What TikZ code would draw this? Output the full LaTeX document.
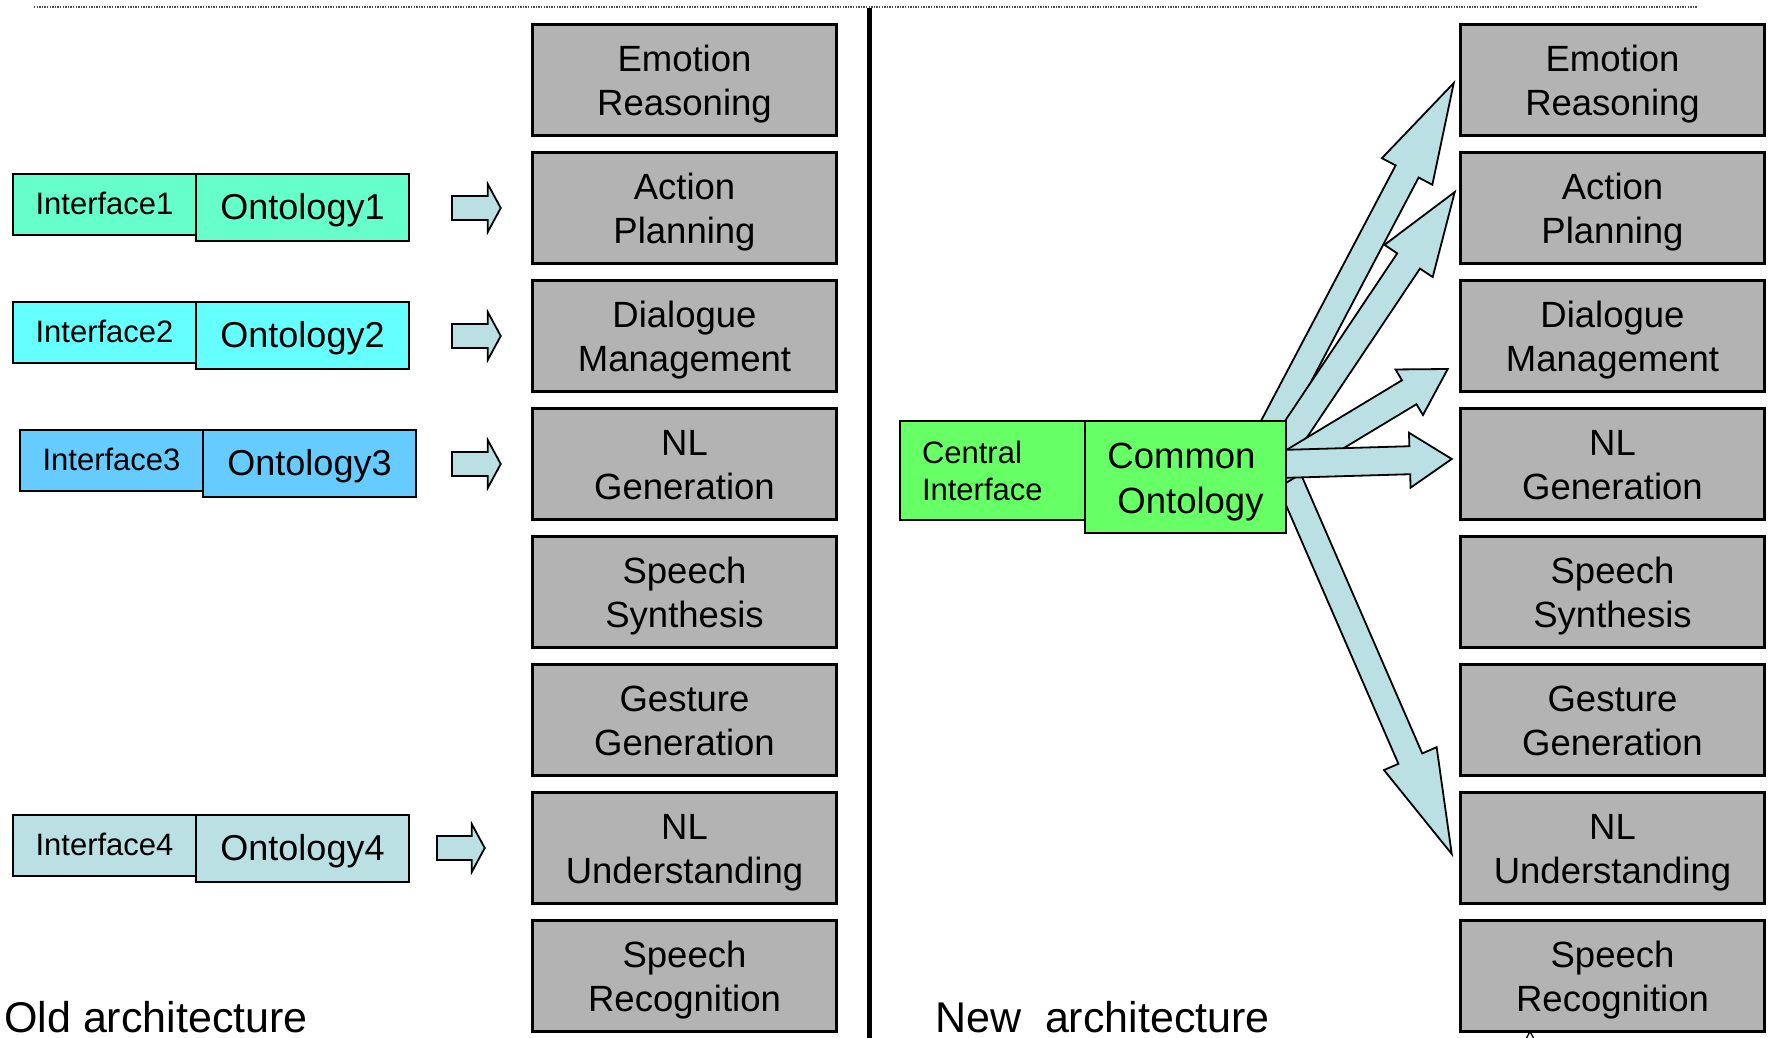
\documentclass[tikz,border=0pt]{standalone}
\usepackage{fontspec}
\setmainfont{Liberation Sans}
\usetikzlibrary{calc}
\pgfdeclarelayer{bg}
\pgfsetlayers{bg,main}

\definecolor{modgray}{RGB}{179,179,179}
\definecolor{ontA}{RGB}{102,255,204}
\definecolor{ontB}{RGB}{102,255,255}
\definecolor{ontC}{RGB}{102,204,255}
\definecolor{paleblue}{RGB}{187,224,227}
\definecolor{ontGreen}{RGB}{102,255,102}

% block arrow: [style] {start}{tip}{half shaft width}{half head width}{head length}
\newcommand\blockarrow[6][]{%
  \coordinate (bahead) at ($(#3)!#6!(#2)$);
  \draw[blockarr,#1]
    ($(#2)!#4!90:(#3)$) -- ($(bahead)!#4!90:(#3)$) -- ($(bahead)!#5!90:(#3)$)
    -- (#3)
    -- ($(bahead)!#5!-90:(#3)$) -- ($(bahead)!#4!-90:(#3)$) -- ($(#2)!#4!-90:(#3)$)
    -- cycle;
}

\begin{document}
\begin{tikzpicture}[x=1pt,y=-1pt,
  module/.style={draw, line width=2.8pt, fill=modgray, minimum width=303.5pt,
    minimum height=111pt, inner sep=0pt, outer sep=0pt, align=center,
    font=\fontsize{36.5}{44}\selectfont, text height=74pt, text depth=3.4pt},
  iface/.style={draw, line width=2.4pt, anchor=north west, minimum width=183pt,
    minimum height=61pt, inner sep=0pt, outer sep=0pt, text depth=3pt,
    font=\fontsize{31}{37}\selectfont},
  onto/.style={draw, line width=2.4pt, anchor=north west, minimum width=213pt,
    minimum height=67pt, inner sep=0pt, outer sep=0pt, text depth=3pt,
    font=\fontsize{36}{44}\selectfont},
  blockarr/.style={draw=black, line width=1.8pt, fill=paleblue, line join=miter},
  caption/.style={anchor=base west, inner sep=0pt, font=\fontsize{43}{50}\selectfont}
]
\useasboundingbox (0,0) rectangle (1770,1038);

% header rule and divider
\draw[black!70, line width=1.3pt, dash pattern=on 1.3pt off 1.3pt] (34,7) -- (1697,7);
\draw[line width=5pt] (869,8) -- (869,1038);

% module columns
\foreach \nm/\yy/\txt in {ER/80/{Emotion\\Reasoning}, AP/208/{Action\\Planning},
    DM/336/{Dialogue\\Management}, NG/464/{NL\\Generation},
    SS/592/{Speech\\Synthesis}, GG/720/{Gesture\\Generation},
    NU/848/{NL\\Understanding}, SR/976/{Speech\\Recognition}}{
  \node[module] (l\nm) at (684.5,\yy) {\txt};
  \node[module] (r\nm) at (1612.5,\yy) {\txt};
}

% old architecture: one interface/ontology pair per module
\node[iface, fill=ontA] (i1) at (13,174) {Interface1};
\node[onto,  fill=ontA] (o1) at (196,174) {Ontology1};
\node[iface, fill=ontB] (i2) at (13,302) {Interface2};
\node[onto,  fill=ontB] (o2) at (196,302) {Ontology2};
\node[iface, fill=ontC] (i3) at (20,430) {Interface3};
\node[onto,  fill=ontC] (o3) at (203,430) {Ontology3};
\node[iface, fill=paleblue] (i4) at (13,815) {Interface4};
\node[onto,  fill=paleblue] (o4) at (196,815) {Ontology4};

\coordinate (a1s) at ($(o1.east |- lAP.west)+(43,0)$);
\coordinate (a1t) at ($(lAP.west)+(-32,0)$);
\coordinate (a2s) at ($(o2.east |- lDM.west)+(43,0)$);
\coordinate (a2t) at ($(lDM.west)+(-32,0)$);
\coordinate (a3s) at ($(o3.east |- lNG.west)+(36,0)$);
\coordinate (a3t) at ($(lNG.west)+(-32,0)$);
\coordinate (a4s) at ($(o4.east |- lNU.west)+(28,0)$);
\coordinate (a4t) at ($(lNU.west)+(-48,0)$);
\blockarrow{a1s}{a1t}{12pt}{24pt}{13pt}
\blockarrow{a2s}{a2t}{12pt}{24pt}{13pt}
\blockarrow{a3s}{a3t}{12pt}{24pt}{13pt}
\blockarrow{a4s}{a4t}{12pt}{24pt}{13pt}

% new architecture: one central interface and common ontology
\node[draw, line width=2.4pt, fill=ontGreen, anchor=north west, minimum height=99pt,
  text width=141pt, inner xsep=22pt, inner ysep=0pt, outer sep=0pt, align=left,
  font=\fontsize{31}{37}\selectfont,
  execute at begin node={\rule[-7.5pt]{0pt}{37pt}},
  execute at end node={\rule[-7.5pt]{0pt}{37pt}}] (ci) at (900,421) {Central\\Interface};
\node[draw, line width=2.4pt, fill=ontGreen, anchor=north west, minimum height=112pt,
  minimum width=201pt, inner sep=0pt, outer sep=0pt, align=left,
  font=\fontsize{36.5}{45}\selectfont, text height=76pt, text depth=3pt] (co) at (1085,421)
  {Common\\\hspace*{10pt}Ontology};

\coordinate (s1) at ($(co.north east)+(-23,24)$);
\coordinate (s2) at ($(co.north east)+(-12,41)$);
\coordinate (s3) at ($(co.north east)+(-14,54)$);
\coordinate (s4) at ($(co.north east)+(-6,43)$);
\coordinate (s5) at ($(co.north east)+(-15,17)$);
\coordinate (t1) at ($(rER.west)+(-7,3)$);
\coordinate (t2) at ($(rAP.west)+(-6,-16)$);
\coordinate (t3) at ($(rDM.west)+(-13,33)$);
\coordinate (t4) at ($(rNG.west)+(-9,-5)$);
\coordinate (t5) at ($(rNU.west)+(-9,6)$);
\begin{pgfonlayer}{bg}
  \blockarrow{s5}{t5}{13pt}{28.7pt}{104pt}
  \blockarrow{s1}{t1}{13pt}{28.5pt}{100pt}
  \blockarrow{s2}{t2}{13.7pt}{29pt}{83pt}
  \blockarrow{s3}{t3}{14pt}{26.6pt}{45pt}
  \blockarrow{s4}{t4}{14pt}{27.5pt}{42pt}
\end{pgfonlayer}

% captions
\node[caption] (oldcap) at (4,1032.5) {Old architecture};
\node[caption] (newcap) at (935,1032.5) {New\ \ architecture};

% small tip at the lower edge
\draw[line width=1.3pt] (1526.5,1038) -- (1530,1031.5) -- (1533.5,1038);
\end{tikzpicture}
\end{document}
